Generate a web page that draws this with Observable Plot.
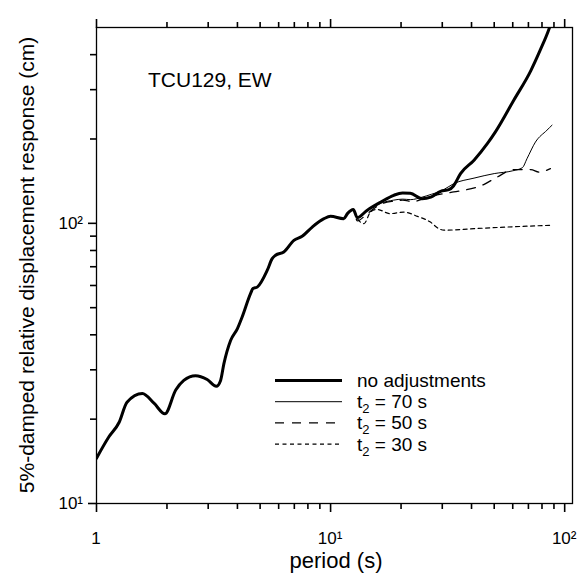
<!DOCTYPE html>
<html><head><meta charset="utf-8">
<script src="https://cdn.jsdelivr.net/npm/d3@7"></script>
<script src="https://cdn.jsdelivr.net/npm/@observablehq/plot@0.6"></script>
<style>
html,body{margin:0;padding:0;overflow:hidden;background:#fff}
</style>
</head><body><div id="chart"></div>
<script>
// shared part of all four spectra (periods in s, displacement in cm)
const commonPeriod = [1, 1.13, 1.25, 1.35, 1.57, 1.76, 1.96, 2.18, 2.36, 2.65, 2.97, 3.25, 3.39, 3.5, 3.74, 4.0, 4.19, 4.55, 4.66, 4.86, 5.36, 5.63, 5.82, 6.31, 6.97, 7.56, 8.35, 9.37, 10, 11.37, 11.8, 12.5];
const commonDisp   = [14.5, 17.3, 19.5, 23.0, 24.7, 22.8, 20.9, 25.4, 27.5, 28.6, 27.7, 26.2, 27.5, 31.5, 38.2, 42.1, 46.3, 56.1, 58.5, 59.2, 67.9, 74.8, 76.9, 79.0, 86.9, 89.9, 97.0, 103.9, 105.9, 103.9, 108.3, 112];

// no adjustments (tail)
const noAdjPeriod = [13.0, 14.3, 16.4, 18.6, 20.3, 21.9, 24.6, 26.8, 29.5, 32.0, 33.5, 35.9, 41, 46.8, 50.6, 60.6, 71.7, 78.6, 85.8, 90];
const noAdjDisp   = [104.8, 111.2, 119.1, 125.9, 128.3, 128, 122.5, 124.1, 130, 131.8, 136, 150.5, 168, 192.8, 212, 275, 351, 415, 495, 560];

// t2 = 70 s (tail)
const t70Period = [13.0, 14.3, 16.4, 18.6, 20.3, 22, 24.6, 27, 30, 33.6, 41, 50, 60, 66, 69, 75, 84, 88.3];
const t70Disp   = [104.8, 111, 118, 121, 122, 121.5, 124, 127, 131, 138.6, 145, 150.5, 154, 158, 170, 195, 215, 224];

// t2 = 50 s (tail)
const t50Period = [13.0, 14.3, 16.4, 18.6, 20.3, 22.6, 24.6, 27, 30.5, 33.6, 45.1, 51.5, 60.6, 71.7, 77.8, 86.9];
const t50Disp   = [102, 108, 117, 120, 121, 119.5, 122, 125, 127.7, 129.4, 137.5, 146.3, 155.5, 155.5, 152.4, 156.8];

// t2 = 30 s (tail)
const t30Period = [13.0, 13.9, 14.8, 15.8, 18.0, 20.5, 23.5, 26.7, 29.0, 30.5, 41, 56.9, 86.9];
const t30Disp   = [104, 99.8, 109.7, 112.1, 108.3, 109.7, 105.9, 101, 95.7, 94.5, 95.7, 97, 98.4];

const xMajor = [1, 10, 100];
const xMinor = [2,3,4,5,6,7,8,9,20,30,40,50,60,70,80,90];
const yMajor = [10, 100];
const yMinor = [20,30,40,50,60,70,80,90,200,300,400];
const tickText = {1: "1", 10: "10\u00B9", 100: "10\u00B2"};

const legendLabels = ["no adjustments", "t|2| = 70 s", "t|2| = 50 s", "t|2| = 30 s"];

function rows(ps, ds) {
  const p = commonPeriod.concat(ps), d = commonDisp.concat(ds);
  return p.map((v, i) => ({period: v, disp: d[i]}));
}
const noAdj = rows(noAdjPeriod, noAdjDisp);
const s70 = rows(t70Period, t70Disp);
const s50 = rows(t50Period, t50Disp);
const s30 = rows(t30Period, t30Disp);

const styles = [
  {strokeWidth: 3},
  {strokeWidth: 1},
  {strokeWidth: 1.3, strokeDasharray: "9,8"},
  {strokeWidth: 1.2, strokeDasharray: "4,3.5"}
];
const FONT = '"Liberation Sans", Arial, sans-serif';
const TW = 1.6; // tick stroke width

const chart = Plot.plot({
  width: 578, height: 576,
  marginLeft: 96, marginRight: 6, marginTop: 27, marginBottom: 73,
  x: {type: "log", domain: [1, 108]},
  y: {type: "log", domain: [10, 500]},
  marks: [
    Plot.line(s30, {x: "period", y: "disp", stroke: "black", curve: "monotone-x", ...styles[3]}),
    Plot.line(s50, {x: "period", y: "disp", stroke: "black", curve: "monotone-x", ...styles[2]}),
    Plot.line(s70, {x: "period", y: "disp", stroke: "black", curve: "monotone-x", ...styles[1]}),
    Plot.line(noAdj, {x: "period", y: "disp", stroke: "black", curve: "monotone-x", ...styles[0]}),
    Plot.frame({stroke: "black", strokeWidth: 1.3}),
    Plot.axisX({anchor: "bottom", ticks: xMajor, tickSize: 9, tickFormat: () => "", label: null, stroke: "black", strokeWidth: TW}),
    Plot.axisX({anchor: "bottom", ticks: xMinor, tickSize: 6, tickFormat: () => "", label: null, stroke: "black", strokeWidth: TW}),
    Plot.axisX({anchor: "top", ticks: xMajor, tickSize: 9, tickFormat: () => "", label: null, stroke: "black", strokeWidth: TW}),
    Plot.axisX({anchor: "top", ticks: xMinor, tickSize: 6, tickFormat: () => "", label: null, stroke: "black", strokeWidth: TW}),
    Plot.axisY({anchor: "left", ticks: yMajor, tickSize: 8, tickFormat: () => "", label: null, stroke: "black", strokeWidth: TW}),
    Plot.axisY({anchor: "left", ticks: yMinor, tickSize: 6, tickFormat: () => "", label: null, stroke: "black", strokeWidth: TW})
  ]
});
chart.setAttribute("font-family", FONT);

const sx = chart.scale("x"), sy = chart.scale("y");
const svg = d3.select(chart);

// clip the curves to the frame (the unadjusted curve leaves through the top)
const clipId = "frame-clip";
svg.append("defs").append("clipPath").attr("id", clipId).append("rect")
  .attr("x", 96).attr("y", 27).attr("width", 578 - 96 - 6).attr("height", 576 - 27 - 73);
svg.selectAll('g[aria-label="line"]').attr("clip-path", `url(#${clipId})`);

xMajor.forEach(v => svg.append("text").attr("x", sx.apply(v)).attr("y", 544).attr("text-anchor", "middle")
  .attr("font-size", 17).attr("fill", "black").text(tickText[v]));
yMajor.forEach(v => svg.append("text").attr("x", 83).attr("y", sy.apply(v) + 6).attr("text-anchor", "end")
  .attr("font-size", 17).attr("fill", "black").text(tickText[v]));

// station label
svg.append("text").attr("x", 148).attr("y", 87).attr("text-anchor", "start").attr("font-size", 21).attr("fill", "black").text("TCU129, EW");
// axis titles
svg.append("text").attr("x", 336).attr("y", 568).attr("text-anchor", "middle").attr("font-size", 22).attr("fill", "black").text("period (s)");
svg.append("text").attr("transform", "translate(34,265) rotate(-90)").attr("text-anchor", "middle").attr("font-size", 21).attr("fill", "black").text("5%-damped relative displacement response (cm)");
// legend
const lg = svg.append("g");
legendLabels.forEach((lab, i) => {
  const yLine = 380.5 + i * 21.2;
  const st = styles[i];
  lg.append("line").attr("x1", 275).attr("x2", 342).attr("y1", yLine).attr("y2", yLine)
    .attr("stroke", "black").attr("stroke-width", st.strokeWidth).attr("stroke-dasharray", st.strokeDasharray || null);
  const t = lg.append("text").attr("x", 357).attr("y", yLine + 6.5).attr("text-anchor", "start").attr("font-size", 19).attr("fill", "black");
  const parts = lab.split("|");
  if (parts.length === 1) t.text(lab);
  else {
    t.append("tspan").text(parts[0]);
    t.append("tspan").attr("font-size", 13).attr("dy", 5).text(parts[1]);
    t.append("tspan").attr("dy", -5).text(parts[2]);
  }
});

document.getElementById("chart").appendChild(chart);
</script>
</body></html>
